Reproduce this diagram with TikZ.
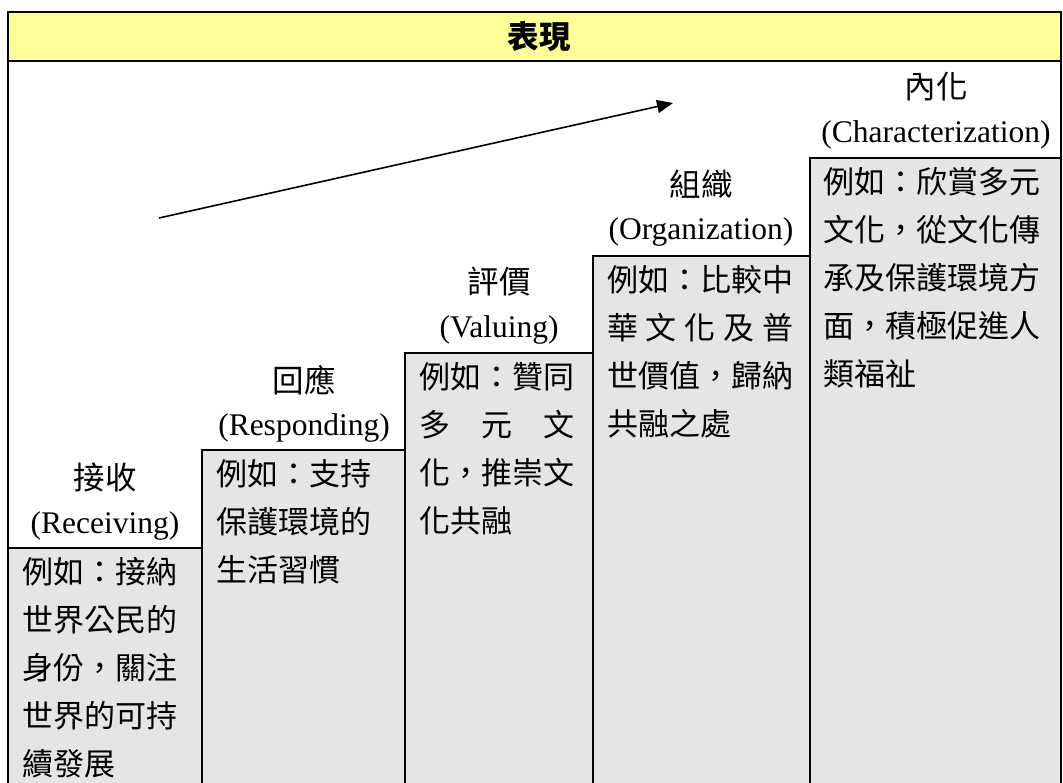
\documentclass[tikz,border=0pt]{standalone}
\usepackage{fontspec}
\setmainfont{Liberation Serif}
\newfontfamily\cjk{Noto Sans CJK TC}
\usetikzlibrary{arrows.meta}
\definecolor{headyellow}{HTML}{FFFF99}
\definecolor{stepgray}{HTML}{E5E5E5}
\begin{document}
\begin{tikzpicture}[x=1pt,y=-1pt]
  \tikzstyle{every node}=[inner sep=0pt,font=\fontsize{31.5}{48}\selectfont]
  \tikzstyle{level}=[anchor=center]
  \tikzstyle{example}=[anchor=north west,align=left,font=\cjk\fontsize{31}{48}\selectfont]
  \tikzstyle{rule}=[line width=2pt]
 \useasboundingbox (0,0) rectangle (1063,783);

 % steps
 \fill[stepgray] (8,548) rectangle (202,783);
 \fill[stepgray] (202,450) rectangle (405,783);
 \fill[stepgray] (405,353) rectangle (593,783);
 \fill[stepgray] (593,256) rectangle (810,783);
 \fill[stepgray] (810,158) rectangle (1061,783);
 \fill[headyellow] (8,12) rectangle (1061,61);

 \draw[rule] (8,783) -- (8,12) -- (1061,12) -- (1061,783);
 \draw[rule] (8,61) -- (1061,61);
 \draw[rule] (8,548) -- (202,548);
 \draw[rule] (202,783) -- (202,450) -- (405,450);
 \draw[rule] (405,783) -- (405,353) -- (593,353);
 \draw[rule] (593,783) -- (593,256) -- (810,256);
 \draw[rule] (810,783) -- (810,158) -- (1061,158);

 \node (title) at (539,37) {\cjk\bfseries 表現};

 \node[level] (recv) at (105,477) {\cjk 接收};
 \node[level] (recven) at (105,526) {(Receiving)};
 \node[level] (resp) at (304,380) {\cjk 回應};
 \node[level] (respen) at (304,428) {(Responding)};
 \node[level] (valu) at (499,282) {\cjk 評價};
 \node[level] (valuen) at (499,330) {(Valuing)};
 \node[level] (orga) at (701,184) {\cjk 組織};
 \node[level] (orgaen) at (701,232) {(Organization)};
 \node[level] (char) at (936,87) {\cjk 內化};
 \node[level] (charen) at (936,135) {(Characterization)};

 \node[example] (recvex) at (22,557) {例如：接納\\世界公民的\\身份，關注\\世界的可持\\續發展};
 \node[example] (respex) at (216,459) {例如：支持\\保護環境的\\生活習慣};
 \node[example] (valuex) at (419,362) {例如：贊同\\\makebox[5em][s]{多\hfil 元\hfil 文}\\化，推崇文\\化共融};
 \node[example] (orgaex) at (607,265) {例如：比較中\\\makebox[6em][s]{華\hfil 文\hfil 化\hfil 及\hfil 普}\\世價值，歸納\\共融之處};
 \node[example] (charex) at (823,167) {例如：欣賞多元\\文化，從文化傳\\承及保護環境方\\面，積極促進人\\類福祉};

 \coordinate (rise) at (159,218);
 \coordinate (peak) at (673,103);
 \draw [-{Triangle[length=16pt,width=13pt]},line width=1.6pt] (rise) -- (peak);

\end{tikzpicture}
\end{document}
